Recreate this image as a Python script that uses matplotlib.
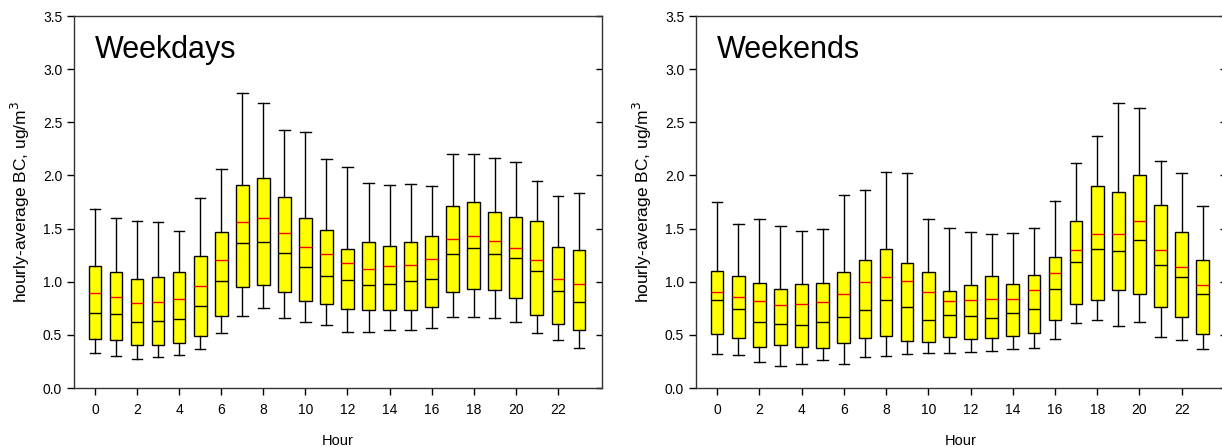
import numpy as np
from matplotlib import pyplot as plt

plt.rcParams['font.family'] = ['Liberation Sans', 'DejaVu Sans']

hours = list(range(24))

# Weekdays
wd_low = [0.33, 0.30, 0.27, 0.29, 0.31, 0.37, 0.52, 0.68, 0.75, 0.66, 0.62, 0.59,
          0.53, 0.53, 0.55, 0.55, 0.56, 0.67, 0.67, 0.66, 0.62, 0.52, 0.45, 0.38]
wd_q1 = [0.46, 0.45, 0.40, 0.40, 0.42, 0.49, 0.68, 0.95, 0.97, 0.90, 0.82, 0.79,
         0.74, 0.73, 0.73, 0.73, 0.76, 0.90, 0.93, 0.92, 0.85, 0.69, 0.60, 0.55]
wd_med = [0.71, 0.70, 0.62, 0.63, 0.65, 0.77, 1.01, 1.36, 1.37, 1.27, 1.14, 1.05,
          1.02, 0.97, 0.98, 1.01, 1.03, 1.26, 1.32, 1.26, 1.22, 1.10, 0.91, 0.81]
wd_mean = [0.89, 0.86, 0.80, 0.81, 0.84, 0.96, 1.20, 1.56, 1.60, 1.46, 1.33, 1.26,
           1.18, 1.12, 1.15, 1.16, 1.21, 1.40, 1.43, 1.38, 1.32, 1.20, 1.03, 0.98]
wd_q3 = [1.15, 1.09, 1.03, 1.04, 1.09, 1.24, 1.47, 1.91, 1.98, 1.80, 1.60, 1.49,
         1.31, 1.37, 1.34, 1.37, 1.43, 1.71, 1.75, 1.66, 1.61, 1.57, 1.33, 1.30]
wd_high = [1.68, 1.60, 1.57, 1.56, 1.48, 1.79, 2.06, 2.78, 2.68, 2.43, 2.41, 2.15,
           2.08, 1.93, 1.91, 1.92, 1.90, 2.20, 2.20, 2.16, 2.13, 1.95, 1.81, 1.83]

# Weekends
we_low = [0.32, 0.31, 0.24, 0.21, 0.23, 0.26, 0.23, 0.29, 0.30, 0.32, 0.33, 0.33,
          0.34, 0.35, 0.37, 0.38, 0.46, 0.61, 0.64, 0.58, 0.62, 0.48, 0.45, 0.37]
we_q1 = [0.51, 0.47, 0.39, 0.40, 0.39, 0.38, 0.42, 0.47, 0.49, 0.44, 0.43, 0.48,
         0.46, 0.47, 0.49, 0.52, 0.64, 0.79, 0.83, 0.92, 0.88, 0.76, 0.67, 0.51]
we_med = [0.83, 0.74, 0.62, 0.60, 0.59, 0.62, 0.67, 0.73, 0.83, 0.76, 0.64, 0.69,
          0.68, 0.66, 0.71, 0.74, 0.93, 1.19, 1.31, 1.29, 1.39, 1.16, 1.04, 0.88]
we_mean = [0.90, 0.86, 0.82, 0.78, 0.79, 0.81, 0.88, 1.00, 1.04, 1.01, 0.90, 0.82,
           0.83, 0.84, 0.84, 0.92, 1.08, 1.30, 1.45, 1.45, 1.57, 1.30, 1.14, 0.97]
we_q3 = [1.10, 1.05, 0.99, 0.93, 0.98, 0.99, 1.09, 1.20, 1.31, 1.18, 1.09, 0.91,
         0.97, 1.05, 0.98, 1.06, 1.23, 1.57, 1.90, 1.84, 2.00, 1.72, 1.47, 1.20]
we_high = [1.75, 1.54, 1.59, 1.52, 1.48, 1.50, 1.82, 1.86, 2.03, 2.02, 1.59, 1.51,
           1.47, 1.45, 1.46, 1.51, 1.76, 2.12, 2.37, 2.68, 2.63, 2.14, 2.02, 1.71]


def make_stats(low, q1, med, mean, q3, high):
    return [dict(whislo=a, q1=b, med=c, mean=d, q3=e, whishi=f, fliers=[])
            for a, b, c, d, e, f in zip(low, q1, med, mean, q3, high)]


fig = plt.figure(figsize=(12.22, 4.47), dpi=100)
ax1 = fig.add_axes([74 / 1222, 59 / 447, 528 / 1222, 372 / 447])
ax2 = fig.add_axes([696 / 1222, 59 / 447, 530 / 1222, 372 / 447])

panels = [
    (ax1, 'Weekdays', make_stats(wd_low, wd_q1, wd_med, wd_mean, wd_q3, wd_high)),
    (ax2, 'Weekends', make_stats(we_low, we_q1, we_med, we_mean, we_q3, we_high)),
]

for ax, title, stats in panels:
    ax.bxp(stats, positions=hours, widths=0.6, patch_artist=True,
           showmeans=True, meanline=True, showfliers=False,
           boxprops=dict(facecolor='#ffff00', edgecolor='black', linewidth=1),
           medianprops=dict(color='black', linewidth=1),
           meanprops=dict(color='red', linestyle='-', linewidth=1),
           whiskerprops=dict(color='black', linewidth=1),
           capprops=dict(color='black', linewidth=1),
           capwidths=0.5)
    ax.set_xlim(-1, 24.1)
    ax.set_ylim(0, 3.5)
    ax.set_xticks(range(0, 24, 2))
    ax.set_xticklabels([str(h) for h in range(0, 24, 2)])
    ax.set_yticks(np.arange(0, 3.51, 0.5))
    ax.set_yticklabels(['%.1f' % v for v in np.arange(0, 3.51, 0.5)])
    ax.tick_params(axis='both', labelsize=10, length=5, width=1, colors='black')
    ax.tick_params(axis='x', pad=6)
    ax.tick_params(axis='y', right=True, which='both')
    for t in ax.yaxis.get_major_ticks():
        t.tick2line.set_marker(0)  # inward tick on right spine
        t.tick2line.set_markersize(4)
    ax.set_xlabel('Hour', fontsize=10.5, labelpad=12)
    ax.set_ylabel(r'hourly-average BC, ug/m$^3$', fontsize=12.5, labelpad=8)
    ax.text(0.04, 0.95, title, transform=ax.transAxes, fontsize=22,
            va='top', ha='left')
    for s in ax.spines.values():
        s.set_color('#333333')
        s.set_linewidth(1)

fig.savefig('out.png', dpi=100)
